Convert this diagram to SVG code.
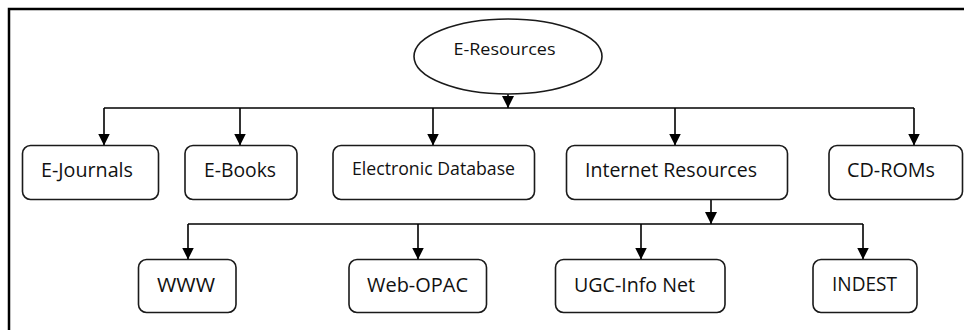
<svg xmlns="http://www.w3.org/2000/svg" width="964" height="330" viewBox="0 0 964 330">
  <style>
    .frame { fill: none; stroke: #000; stroke-width: 2.5; }
    .node rect, .node ellipse { fill: #fff; stroke: #1a1a1a; stroke-width: 1.6; }
    .node text { font-family: "Open Sans", "Noto Sans", "Liberation Sans", sans-serif; font-size: 19.5px; fill: #111; }
    .node text.small { font-size: 17.5px; }
    .node text.root { font-size: 16.5px; }
    .wire { fill: none; stroke: #000; stroke-width: 1.6; }
  </style>
  <defs>
    <marker id="arrow" viewBox="0 0 12 12" refX="12" refY="6" markerWidth="12" markerHeight="12" markerUnits="userSpaceOnUse" orient="auto">
      <path d="M0,0 L12,6 L0,12 Z" fill="#000"/>
    </marker>
  </defs>

  <rect width="964" height="330" fill="#fff"/>
  <!-- outer frame: left and top edges -->
  <path class="frame" d="M9,330 V9 H964"/>

  <!-- connectors -->
  <g id="connectors">
    <line class="wire" x1="508" y1="94" x2="508" y2="108" marker-end="url(#arrow)"/>
    <line class="wire" x1="104" y1="108" x2="914" y2="108"/>
    <line class="wire" x1="104" y1="108" x2="104" y2="145.5" marker-end="url(#arrow)"/>
    <line class="wire" x1="240" y1="108" x2="240" y2="145.5" marker-end="url(#arrow)"/>
    <line class="wire" x1="433" y1="108" x2="433" y2="145.5" marker-end="url(#arrow)"/>
    <line class="wire" x1="675" y1="108" x2="675" y2="145.5" marker-end="url(#arrow)"/>
    <line class="wire" x1="914" y1="108" x2="914" y2="145.5" marker-end="url(#arrow)"/>

    <line class="wire" x1="711" y1="199.5" x2="711" y2="224" marker-end="url(#arrow)"/>
    <line class="wire" x1="188" y1="224" x2="863" y2="224"/>
    <line class="wire" x1="188" y1="224" x2="188" y2="259.5" marker-end="url(#arrow)"/>
    <line class="wire" x1="418" y1="224" x2="418" y2="259.5" marker-end="url(#arrow)"/>
    <line class="wire" x1="641" y1="224" x2="641" y2="259.5" marker-end="url(#arrow)"/>
    <line class="wire" x1="863" y1="224" x2="863" y2="259.5" marker-end="url(#arrow)"/>
  </g>

  <!-- root -->
  <g id="e-resources" class="node">
    <ellipse cx="508" cy="56.5" rx="94" ry="37.5"/>
    <text class="root" x="453.5" y="55" textLength="102" lengthAdjust="spacingAndGlyphs">E-Resources</text>
  </g>

  <!-- first level -->
  <g id="e-journals" class="node">
    <rect x="22.5" y="145.5" width="136" height="54" rx="8"/>
    <text x="41" y="177" textLength="92" lengthAdjust="spacingAndGlyphs">E-Journals</text>
  </g>
  <g id="e-books" class="node">
    <rect x="185" y="145.5" width="112" height="54" rx="8"/>
    <text x="204" y="177" textLength="72" lengthAdjust="spacingAndGlyphs">E-Books</text>
  </g>
  <g id="electronic-database" class="node">
    <rect x="333" y="145.5" width="201.5" height="54" rx="8"/>
    <text class="small" x="352" y="175" textLength="163" lengthAdjust="spacingAndGlyphs">Electronic Database</text>
  </g>
  <g id="internet-resources" class="node">
    <rect x="566.5" y="145.5" width="221" height="54" rx="8"/>
    <text x="585" y="177" textLength="172" lengthAdjust="spacingAndGlyphs">Internet Resources</text>
  </g>
  <g id="cd-roms" class="node">
    <rect x="829" y="145.5" width="133.5" height="54" rx="8"/>
    <text x="847" y="177" textLength="88" lengthAdjust="spacingAndGlyphs">CD-ROMs</text>
  </g>

  <!-- second level -->
  <g id="www" class="node">
    <rect x="138.5" y="259.5" width="97.5" height="53" rx="8"/>
    <text x="157" y="292" textLength="58" lengthAdjust="spacingAndGlyphs">WWW</text>
  </g>
  <g id="web-opac" class="node">
    <rect x="349" y="259.5" width="137.5" height="53" rx="8"/>
    <text x="367" y="292" textLength="101" lengthAdjust="spacingAndGlyphs">Web-OPAC</text>
  </g>
  <g id="ugc-info-net" class="node">
    <rect x="555.5" y="259.5" width="169.5" height="53" rx="8"/>
    <text x="574" y="292" textLength="121" lengthAdjust="spacingAndGlyphs">UGC-Info Net</text>
  </g>
  <g id="indest" class="node">
    <rect x="813" y="259.5" width="104" height="53" rx="8"/>
    <text x="832" y="291" textLength="65" lengthAdjust="spacingAndGlyphs">INDEST</text>
  </g>
</svg>
